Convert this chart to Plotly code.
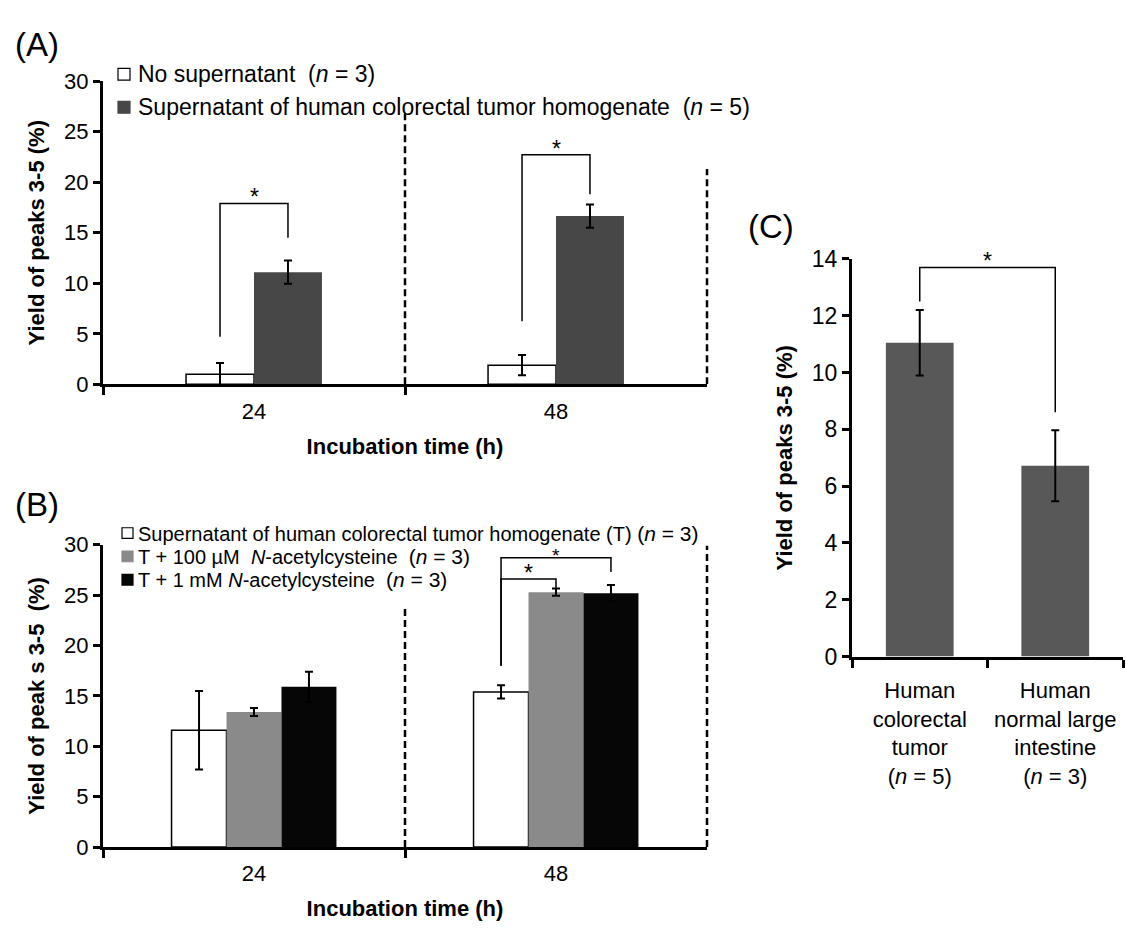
import plotly.graph_objects as go

W, H = 1126, 933
FONT = "Arial, Liberation Sans, Helvetica, sans-serif"

# ---------------- data ----------------
# Panel A
a_categories = ["24", "48"]
a_no_supernatant = [1.0, 1.9]
a_no_supernatant_err = [1.1, 1.0]
a_tumor_supernatant = [11.1, 16.65]
a_tumor_supernatant_err = [1.15, 1.15]
a_series_names = ["No supernatant  (<i>n</i> = 3)",
                  "Supernatant of human colorectal tumor homogenate  (<i>n</i> = 5)"]
# significance brackets: (category index, left foot, top, right foot)
a_brackets = [(0, 4.7, 17.9, 14.5), (1, 6.25, 22.7, 18.8)]

# Panel B
b_categories = ["24", "48"]
b_T = [11.6, 15.4]
b_T_err = [3.9, 0.65]
b_nac100 = [13.4, 25.3]
b_nac100_err = [0.4, 0.35]
b_nac1 = [15.9, 25.2]
b_nac1_err = [1.5, 0.8]
b_series_names = ["Supernatant of human colorectal tumor homogenate (T) ",
                  "T + 100 µM  <i>N</i>-acetylcysteine  ",
                  "T + 1 mM <i>N</i>-acetylcysteine  "]
b_series_n = ["(<i>n</i> = 3)", "(<i>n</i> = 3)", "(<i>n</i> = 3)"]
# brackets: (category index, from series, to series, left foot, top, right foot)
b_brackets = [(1, 0, 1, 18.0, 26.6, 25.7), (1, 0, 2, 18.0, 28.7, 27.3)]

# Panel C
c_categories = ["Human<br>colorectal<br>tumor<br>(<i>n</i> = 5)",
                "Human<br>normal large<br>intestine<br>(<i>n</i> = 3)"]
c_values = [11.05, 6.72]
c_err = [1.15, 1.25]
c_bracket = (0, 1, 12.5, 13.7, 8.6)

# ---------------- styles ----------------
A_COLORS = ["white", "#474747"]
B_COLORS = ["white", "#8a8a8a", "#060606"]
C_COLOR = "#585858"
A_W = 0.225
A_OFF = [-A_W, 0.0]
B_W = 0.182
B_OFF = [-1.5 * B_W, -0.5 * B_W, 0.5 * B_W]
C_W = 0.5
C_OFF = -0.25


def px(p):
    return p / W


def py(p):
    return 1 - p / H


def err(arr):
    return dict(type="data", array=arr, color="black", thickness=2, width=4)


fig = go.Figure()

# Panel A bars
a_vals = [a_no_supernatant, a_tumor_supernatant]
a_errs = [a_no_supernatant_err, a_tumor_supernatant_err]
for i in range(2):
    fig.add_trace(go.Bar(
        x=a_categories, y=a_vals[i], error_y=err(a_errs[i]),
        width=A_W, offset=A_OFF[i], name=a_series_names[i],
        marker=dict(color=A_COLORS[i],
                    line=dict(color="black", width=1.5 if i == 0 else 0)),
        xaxis="x", yaxis="y", showlegend=False))

# Panel B bars
b_vals = [b_T, b_nac100, b_nac1]
b_errs = [b_T_err, b_nac100_err, b_nac1_err]
for i in range(3):
    fig.add_trace(go.Bar(
        x=b_categories, y=b_vals[i], error_y=err(b_errs[i]),
        width=B_W, offset=B_OFF[i], name=b_series_names[i],
        marker=dict(color=B_COLORS[i],
                    line=dict(color="black", width=1.5 if i == 0 else 0)),
        xaxis="x2", yaxis="y2", showlegend=False))

# Panel C bars
fig.add_trace(go.Bar(
    x=c_categories, y=c_values, error_y=err(c_err),
    width=C_W, offset=C_OFF, marker=dict(color=C_COLOR, line=dict(width=0)),
    xaxis="x3", yaxis="y3", showlegend=False))

shapes = []
annotations = []


def bracket(xref, yref, xl, xr, yl, yt, yr, star_shift=6, star_size=23):
    shapes.append(dict(type="path", xref=xref, yref=yref,
                       path=f"M {xl},{yl} L {xl},{yt} L {xr},{yt} L {xr},{yr}",
                       line=dict(color="black", width=1.5)))
    annotations.append(dict(x=(xl + xr) / 2, y=yt, xref=xref, yref=yref,
                            text="*", showarrow=False, yanchor="middle",
                            yshift=star_shift,
                            font=dict(size=star_size, color="black", family=FONT)))


for (ci, yl, yt, yr) in a_brackets:
    xl = ci + A_OFF[0] + A_W / 2
    xr = ci + A_OFF[1] + A_W / 2
    bracket("x", "y", xl, xr, yl, yt, yr)

for k, (ci, s0, s1, yl, yt, yr) in enumerate(b_brackets):
    xl = ci + B_OFF[s0] + B_W / 2
    xr = ci + B_OFF[s1] + B_W / 2
    if k == 0:
        bracket("x2", "y2", xl, xr, yl, yt, yr)
    else:
        bracket("x2", "y2", xl, xr, yl, yt, yr, star_shift=2, star_size=19)

bracket("x3", "y3", c_bracket[0] + C_OFF + C_W / 2, c_bracket[1] + C_OFF + C_W / 2,
        c_bracket[2], c_bracket[3], c_bracket[4])

# dashed separators (x in axis-domain fraction so the edge line is not clipped)
dash = dict(color="black", width=2.5, dash="7px,4px")
for xref, yref, xv, ytop in [("x domain", "y", 0.5, 26.8), ("x domain", "y", 1.0, 21.3),
                             ("x2 domain", "y2", 0.5, 23.7), ("x2 domain", "y2", 1.0, 29.9)]:
    shapes.append(dict(type="line", xref=xref, yref=yref, x0=xv, x1=xv, y0=0, y1=ytop,
                       line=dash))

# legends (drawn manually)
a_leg_y = [63, 97]
for i in range(2):
    shapes.append(dict(type="rect", xref="paper", yref="paper",
                       x0=px(118), x1=px(130), y0=py(a_leg_y[i] + 6), y1=py(a_leg_y[i] - 6),
                       fillcolor=A_COLORS[i], line=dict(color="black" if i == 0 else A_COLORS[i], width=1.2)))
    annotations.append(dict(x=px(136), y=py(a_leg_y[i]), xref="paper", yref="paper",
                            text=a_series_names[i], showarrow=False, xanchor="left",
                            yanchor="middle", font=dict(size=23, color="black", family=FONT)))

b_leg_y = [535, 559, 583]
for i in range(3):
    shapes.append(dict(type="rect", xref="paper", yref="paper",
                       x0=px(122), x1=px(133), y0=py(b_leg_y[i] + 5.5), y1=py(b_leg_y[i] - 5.5),
                       fillcolor=B_COLORS[i], line=dict(color="black" if i == 0 else B_COLORS[i], width=1.2)))
    annotations.append(dict(x=px(136), y=py(b_leg_y[i]), xref="paper", yref="paper",
                            text=b_series_names[i] + '<span style="font-size:21px">' + b_series_n[i] + "</span>",
                            showarrow=False, xanchor="left",
                            yanchor="middle", font=dict(size=20, color="black", family=FONT)))

# panel labels
for lab, x, y in [("(A)", 37, 32), ("(B)", 37, 506), ("(C)", 771, 220)]:
    annotations.append(dict(x=px(x), y=py(y), xref="paper", yref="paper", text=lab,
                            showarrow=False, xanchor="center", yanchor="middle",
                            font=dict(size=33, color="black", family=FONT)))

axis_common = dict(showline=True, linecolor="black", linewidth=3, showgrid=False,
                   zeroline=False, ticks="outside", tickcolor="black", tickwidth=3)
ttl = dict(size=22, color="black", family=FONT)


def xcat(domain, anchor, fsize, title=None, standoff=0):
    d = dict(domain=domain, anchor=anchor, type="category", range=[-0.5, 1.5],
             tickson="boundaries", tickfont=dict(size=fsize), ticklen=8,
             ticklabelstandoff=standoff, **axis_common)
    if title:
        d["title"] = dict(text=title, font=ttl, standoff=16)
    return d


def yax(domain, anchor, rng, dt, fsize, title):
    return dict(domain=domain, anchor=anchor, range=rng, dtick=dt, ticklen=7,
                tickfont=dict(size=fsize),
                title=dict(text=title, font=ttl, standoff=14), **axis_common)


fig.update_layout(
    width=W, height=H, margin=dict(l=0, r=0, t=0, b=0),
    paper_bgcolor="white", plot_bgcolor="white", barmode="overlay",
    showlegend=False, font=dict(family=FONT, color="black"),
    xaxis=xcat([px(103), px(707)], "y", 22, "<b>Incubation time (h)</b>", 5),
    yaxis=yax([py(382), py(70)], "x", [0, 30], 5, 22, "<b>Yield of peaks 3-5 (%)</b>"),
    xaxis2=xcat([px(103), px(707)], "y2", 22, "<b>Incubation time (h)</b>", 5),
    yaxis2=yax([py(858), py(547)], "x2", [0, 30], 5, 22, "<b>Yield of peak s 3-5  (%)</b>"),
    xaxis3=xcat([px(852), px(1123)], "y3", 22, None, 12),
    yaxis3=yax([py(662), py(253)], "x3", [0, 14], 2, 23, "<b>Yield of peaks 3-5 (%)</b>"),
    shapes=shapes, annotations=annotations,
)

fig.write_html("out.html")
